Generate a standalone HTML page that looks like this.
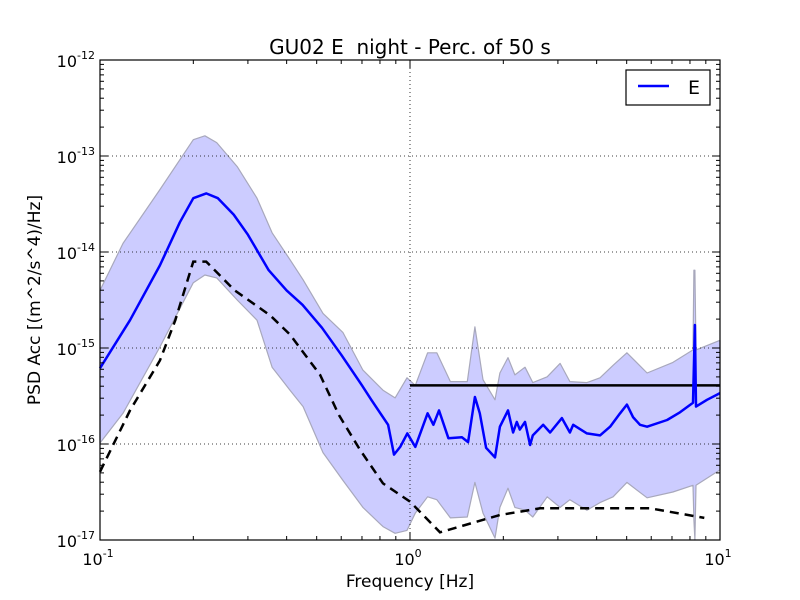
<!DOCTYPE html>
<html><head><meta charset="utf-8"><style>
html,body{margin:0;padding:0;background:#fff;}
svg{display:block;font-family:"DejaVu Sans","Liberation Sans",sans-serif;}
</style></head><body>
<svg id="chart" width="800" height="600" viewBox="0 0 800 600">
<rect x="0" y="0" width="800" height="600" fill="#fff"/>
<text x="410" y="54" font-size="20" text-anchor="middle" xml:space="preserve">GU02 E  night - Perc. of 50 s</text>
<text x="410" y="587" font-size="17" text-anchor="middle">Frequency [Hz]</text>
<text transform="translate(40,300) rotate(-90)" font-size="17" text-anchor="middle">PSD Acc [(m^2/s^4)/Hz]</text>
<g id="plot"></g>
</svg>
<script>
// ---- data (PSD values stored as log10 exponents) ----
const bandFreq = [0.1,0.1186,0.156,0.2,0.218,0.238,0.277,0.321,0.359,0.41,0.452,0.524,0.608,0.705,0.818,0.895,0.978,1.04,1.14,1.22,1.35,1.53,1.62,1.72,1.88,1.95,2.07,2.18,2.35,2.49,2.77,3.05,3.28,3.72,4.10,4.52,5.01,5.82,7.05,8.18,8.24,8.30,8.37,10];
const upperLog = [-14.40,-13.91,-13.35,-12.83,-12.79,-12.86,-13.11,-13.44,-13.80,-14.08,-14.29,-14.64,-14.84,-15.23,-15.44,-15.52,-15.31,-15.39,-15.05,-15.05,-15.35,-15.35,-14.78,-15.33,-15.54,-15.26,-15.10,-15.28,-15.20,-15.36,-15.30,-15.16,-15.35,-15.36,-15.31,-15.18,-15.05,-15.26,-15.15,-15.02,-14.19,-14.19,-15.02,-14.92];
const lowerLog = [-15.99,-15.68,-14.99,-14.32,-14.24,-14.27,-14.50,-14.71,-15.20,-15.44,-15.61,-16.09,-16.38,-16.66,-16.86,-16.93,-16.90,-16.72,-16.55,-16.58,-16.77,-16.76,-16.40,-16.72,-16.98,-16.66,-16.46,-16.66,-16.69,-16.76,-16.55,-16.66,-16.58,-16.69,-16.61,-16.55,-16.40,-16.56,-16.50,-16.43,-16.79,-17.0,-16.43,-16.27];
const medFreq = [0.1,0.125,0.156,0.181,0.2,0.22,0.24,0.27,0.3,0.35,0.4,0.45,0.52,0.6,0.7,0.75,0.85,0.888,0.93,0.98,1.04,1.14,1.19,1.24,1.33,1.47,1.54,1.62,1.68,1.76,1.88,1.95,2.07,2.15,2.21,2.26,2.35,2.44,2.49,2.69,2.83,3.09,3.28,3.36,3.72,4.10,4.42,4.76,5.01,5.24,5.52,5.82,6.75,7.43,8.18,8.30,8.37,9.08,10];
const medLog = [-15.21,-14.71,-14.14,-13.69,-13.44,-13.39,-13.44,-13.61,-13.82,-14.19,-14.40,-14.55,-14.79,-15.07,-15.39,-15.54,-15.80,-16.11,-16.03,-15.89,-16.03,-15.68,-15.80,-15.65,-15.94,-15.93,-15.98,-15.51,-15.68,-16.04,-16.14,-15.82,-15.65,-15.88,-15.77,-15.85,-15.77,-16.01,-15.91,-15.80,-15.88,-15.73,-15.88,-15.80,-15.89,-15.91,-15.82,-15.68,-15.59,-15.72,-15.80,-15.82,-15.75,-15.67,-15.57,-14.76,-15.61,-15.54,-15.47];
const modelFreq = [0.1,0.125,0.156,0.175,0.2,0.22,0.272,0.354,0.41,0.513,0.59,0.69,0.818,1.0,1.25,1.95,2.63,5.95,8.9];
const modelLog = [-16.29,-15.65,-15.13,-14.71,-14.10,-14.10,-14.40,-14.66,-14.86,-15.28,-15.70,-16.06,-16.41,-16.60,-16.92,-16.74,-16.67,-16.67,-16.77];
const threshFreq = [1,10];
const threshLog = [-15.39,-15.39];
const xTickVals = [0.1,1,10];
const xTickLabels = ["-1","0","1"];
const yTickExps = [-12,-13,-14,-15,-16,-17];

// ---- axes ----
const L=100,R=720,T=60,B=540;
const xs = f => L + (Math.log10(f)+1)/2*(R-L);
const ys = e => T + (-12 - e)/5*(B-T);
const NS='http://www.w3.org/2000/svg';
const g=document.getElementById('plot');
function mk(tag,attrs,parent){const el=document.createElementNS(NS,tag);for(const k in attrs)el.setAttribute(k,attrs[k]);(parent||g).appendChild(el);return el;}

// band
let d='';
bandFreq.forEach((f,i)=>{d+=(i?'L':'M')+xs(f).toFixed(1)+','+ys(upperLog[i]).toFixed(1);});
for(let i=bandFreq.length-1;i>=0;i--){d+='L'+xs(bandFreq[i]).toFixed(1)+','+ys(lowerLog[i]).toFixed(1);}
d+='Z';
const band=mk('path',{d:d,fill:'#ccccff',stroke:'#a8a8bc','stroke-width':'1.2','stroke-linejoin':'round'});



// grid
const grid=mk('g',{stroke:'#000','stroke-width':'0.8','stroke-dasharray':'1,3'});


xTickVals.forEach(v=>{const x=xs(v);if(x>L&&x<R)mk('line',{x1:x,x2:x,y1:T,y2:B},grid);});
yTickExps.forEach(e=>{const y=ys(e);if(y>T&&y<B)mk('line',{x1:L,x2:R,y1:y,y2:y},grid);});

function line(fr,vals,attrs,name){
  const pts=fr.map((f,i)=>xs(f).toFixed(1)+','+ys(vals[i]).toFixed(1)).join(' ');
  const el=mk('polyline',Object.assign({points:pts,fill:'none'},attrs));
  
  
  return el;
}
line(modelFreq,modelLog,{stroke:'#000','stroke-width':'2.5','stroke-dasharray':'9,6'},'noise-model-dashed');
line(threshFreq,threshLog,{stroke:'#000','stroke-width':'2.5'},'threshold-line');
line(medFreq,medLog,{stroke:'#0000ff','stroke-width':'2.5','stroke-linejoin':'round'},'median-e-line');

// frame
const fr=mk('rect',{x:L,y:T,width:R-L,height:B-T,fill:'none',stroke:'#000','stroke-width':'1.2'});



// ticks
const tk=mk('g',{stroke:'#000','stroke-width':'1'});


for(let dec=-1;dec<1;dec++){for(let m=1;m<10;m++){const x=xs(m*Math.pow(10,dec));const len=m===1?8:4;
  mk('line',{x1:x,x2:x,y1:B,y2:B-len},tk);mk('line',{x1:x,x2:x,y1:T,y2:T+len},tk);}}
for(let e=-17;e<-12;e++){for(let m=1;m<10;m++){const y=ys(e+Math.log10(m));const len=m===1?8:4;
  mk('line',{x1:L,x2:L+len,y1:y,y2:y},tk);mk('line',{x1:R,x2:R-len,y1:y,y2:y},tk);}}

// tick labels
xTickVals.forEach((v,i)=>{
  const t=mk('text',{x:xs(v)-2,y:B+25,'font-size':'16','text-anchor':'middle'});
  
  
  t.innerHTML='10<tspan dy="-8" font-size="11">'+xTickLabels[i]+'</tspan>';
});
yTickExps.forEach(e=>{
  const t=mk('text',{x:L-5,y:ys(e)+7,'font-size':'16','text-anchor':'end'});
  
  
  t.innerHTML='10<tspan dy="-8" font-size="11">'+e+'</tspan>';
});

// legend
const lg=mk('g',{});


mk('rect',{x:626,y:70,width:84,height:35,fill:'#fff',stroke:'#000','stroke-width':'1.2'},lg);
mk('line',{x1:638,x2:669,y1:86,y2:86,stroke:'#0000ff','stroke-width':'2.5'},lg);
const le=mk('text',{x:688,y:94,'font-size':'19'},lg);
le.textContent='E';


</script>
</body></html>
